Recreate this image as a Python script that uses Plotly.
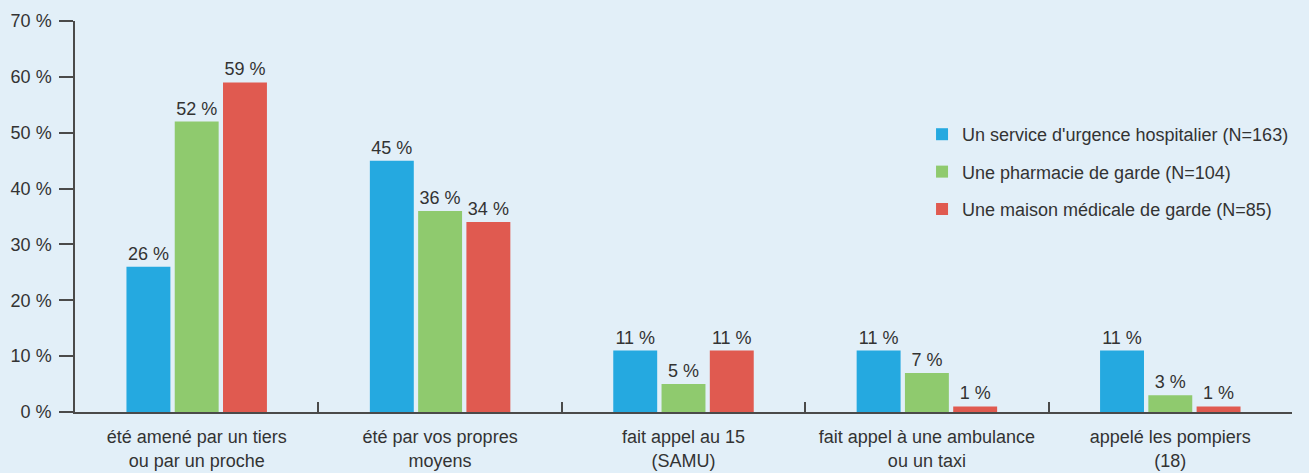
import plotly.graph_objects as go

categories = [
    "été amené par un tiers<br>ou par un proche",
    "été par vos propres<br>moyens",
    "fait appel au 15<br>(SAMU)",
    "fait appel à une ambulance<br>ou un taxi",
    "appelé les pompiers<br>(18)",
]
series_names = [
    "Un service d'urgence hospitalier (N=163)",
    "Une pharmacie de garde (N=104)",
    "Une maison médicale de garde (N=85)",
]
urgence = [26, 45, 11, 11, 11]
pharmacie = [52, 36, 5, 7, 3]
maison = [59, 34, 11, 1, 1]
y_ticks = [0, 10, 20, 30, 40, 50, 60, 70]
y_tick_labels = ["0 %", "10 %", "20 %", "30 %", "40 %", "50 %", "60 %", "70 %"]

colors = ["#25A9E0", "#8FCA6E", "#E05A50"]
FONT = "Liberation Sans, Arial, sans-serif"
TXT = "#333333"
AX = "#4a4a4a"

fig = go.Figure()
for i, (name, vals) in enumerate(zip(series_names, [urgence, pharmacie, maison])):
    fig.add_trace(go.Bar(
        x=categories, y=vals, name=name, legendgroup=f"g{i}",
        marker=dict(color=colors[i], line=dict(width=0)),
        text=[f"{v} %" for v in vals], textposition="outside",
        textfont=dict(size=18, color=TXT, family=FONT),
        cliponaxis=False,
    ))

fig.update_layout(
    width=1309, height=473,
    margin=dict(l=75, r=17, t=21, b=61, autoexpand=False),
    paper_bgcolor="#E2EFF8", plot_bgcolor="#E2EFF8",
    barmode="group", bargap=0.405, bargroupgap=0.09,
    font=dict(family=FONT, size=18, color=TXT),
    showlegend=True,
    legend=dict(x=0.696, y=0.757, xanchor="left", yanchor="top",
                bgcolor="rgba(0,0,0,0)", font=dict(size=18, color=TXT, family=FONT),
                tracegroupgap=11, itemwidth=30),
    xaxis=dict(
        type="category", showline=True, linecolor=AX, linewidth=1.5,
        ticks="inside", tickson="boundaries", ticklen=10, tickcolor=AX,
        tickwidth=1.5, showgrid=False, zeroline=False, ticklabelstandoff=8,
        automargin=False,
        tickfont=dict(size=18, color=TXT, family=FONT),
    ),
    yaxis=dict(
        range=[0, 70], tickmode="array", tickvals=y_ticks, ticktext=y_tick_labels,
        showline=True, linecolor=AX, linewidth=1.5,
        ticks="outside", ticklen=14, tickcolor=AX, tickwidth=1.5,
        showgrid=False, zeroline=False, ticklabelstandoff=4, automargin=False,
        tickfont=dict(size=18, color=TXT, family=FONT),
    ),
)

fig.write_html("out.html", config={"displayModeBar": False},
               post_script="document.body.style.margin='0';")
